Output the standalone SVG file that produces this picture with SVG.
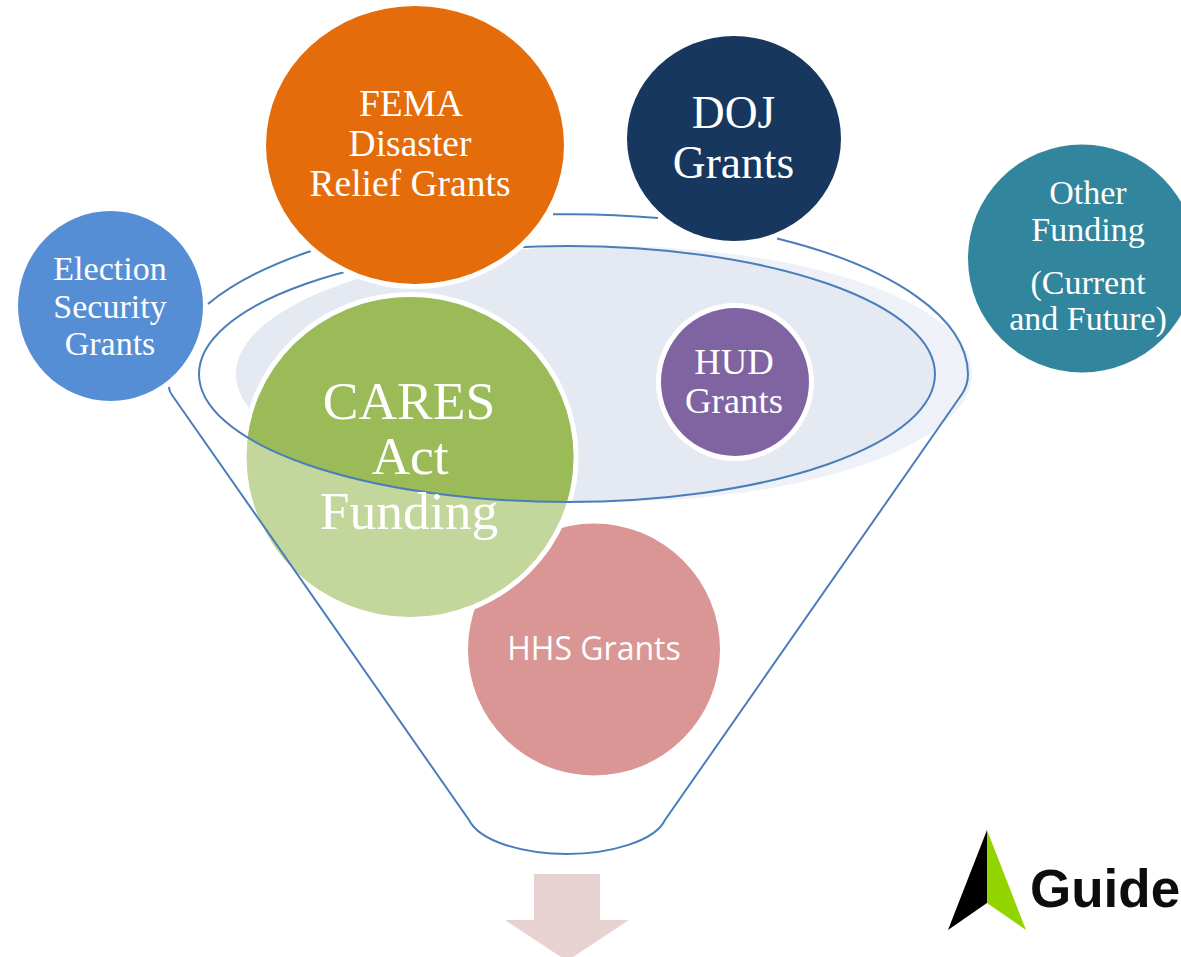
<svg xmlns="http://www.w3.org/2000/svg" width="1181" height="957" viewBox="0 0 1181 957">
<style>
text{font-family:"Liberation Serif","Times New Roman",serif;fill:#fff;text-anchor:middle}
.line{fill:none;stroke:#4a7ebb;stroke-width:2}
.halo{stroke:#fff;stroke-width:10;paint-order:stroke}
</style>
<defs>
<clipPath id="rimClip"><ellipse cx="567" cy="374" rx="368" ry="128"/></clipPath>
<ellipse id="rim" class="line" cx="567" cy="374" rx="368" ry="128"/>
<filter id="soft" x="-5%" y="-5%" width="110%" height="110%"><feGaussianBlur stdDeviation="0.7"/></filter>
</defs>
<rect width="1181" height="957" fill="#fff"/>
<g id="funnel-fill">
<ellipse cx="604" cy="374" rx="368" ry="128" fill="#eef2f8"/>
<ellipse cx="604" cy="374" rx="368" ry="128" fill="#e5e9f2" clip-path="url(#rimClip)"/>
</g>
<g id="node-hhs">
<circle cx="594" cy="649.5" r="126" fill="#d99694"/>
<text x="594" y="660" style="font-family:'Open Sans','Noto Sans',sans-serif" font-size="32">HHS Grants</text>
</g>
<g id="node-cares">
<ellipse class="halo" cx="410" cy="457" rx="163.5" ry="160" fill="#c3d69b"/>
<ellipse cx="410" cy="457" rx="163.5" ry="160" fill="#9bbb59" clip-path="url(#rimClip)"/>
<use href="#rim"/>
<text x="409" y="418.5" font-size="53.5">CARES</text>
<text x="410" y="473.5" font-size="53.5">Act</text>
<text x="409" y="528.5" font-size="53.5">Funding</text>
</g>
<g id="connectors">
<path class="line" d="M208,304A400,160 0 0 1 311,251"/>
<path class="line" d="M553,214.3A400,160 0 0 1 658,218"/>
<path class="line" d="M777,238.5A400,160 0 0 1 968,374Q968,385 962,394L665,820C655,841 610,854 567,854C525,854 480,842 469,820L172,395Q169,391 169,387"/>
</g>
<g id="node-fema">
<ellipse class="halo" cx="415" cy="145" rx="149" ry="139" fill="#e46c0a"/>
<text x="411" y="115.5" font-size="37.5">FEMA</text>
<text x="410" y="155.5" font-size="37.5">Disaster</text>
<text x="410" y="195.5" font-size="37.5">Relief Grants</text>
</g>
<g id="node-doj">
<ellipse cx="734" cy="138.5" rx="107" ry="102.5" fill="#17375e"/>
<text x="733.5" y="127.5" font-size="45.5">DOJ</text>
<text x="733.5" y="177.5" font-size="45.5">Grants</text>
</g>
<g id="node-election">
<ellipse cx="110.5" cy="306" rx="92.5" ry="95" fill="#558ed5"/>
<text x="110" y="279.5" font-size="34">Election</text>
<text x="110" y="317.5" font-size="34">Security</text>
<text x="110" y="354.5" font-size="34">Grants</text>
</g>
<g id="node-other">
<circle cx="1082" cy="258.5" r="114" fill="#31859c"/>
<text x="1088" y="204" font-size="34">Other</text>
<text x="1088" y="241" font-size="34">Funding</text>
<text x="1088" y="293.5" font-size="34">(Current</text>
<text x="1088" y="330" font-size="34">and Future)</text>
</g>
<g id="node-hud">
<circle class="halo" cx="735" cy="382" r="74" fill="#8064a2"/>
<text x="734" y="373.5" font-size="36.7">HUD</text>
<text x="734" y="413" font-size="36.7">Grants</text>
</g>
<g id="arrow">
<path d="M534,874H600V920H629L567,961L505,920H534Z" fill="#e8d1d1"/>
</g>
<g id="logo">
<g filter="url(#soft)">
<path d="M987,830V903L948,930Z" fill="#000"/>
<path d="M987,830V903L1026,930Z" fill="#92d400"/>
</g>
<text x="1030" y="907" style="text-anchor:start;font-family:'Liberation Sans',Arial,sans-serif;fill:#111" font-weight="700" font-size="53" filter="url(#soft)">Guide</text>
</g>
</svg>
